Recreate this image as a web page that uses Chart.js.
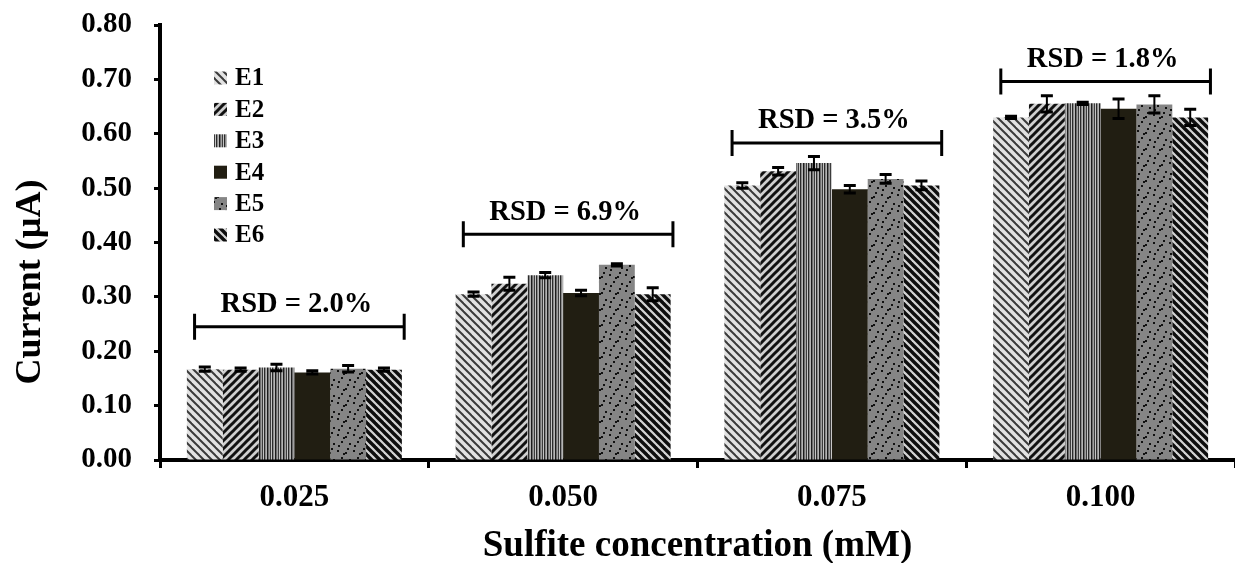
<!DOCTYPE html>
<html>
<head>
<meta charset="utf-8">
<script src="https://cdn.jsdelivr.net/npm/chart.js@4.4.1/dist/chart.umd.min.js"></script>
<style>
    html, body { margin: 0; padding: 0; background: #fff; }
    #wrap { width: 1235px; height: 563px; }
</style>
</head>
<body>
<div id="wrap"><canvas id="myChart" width="1235" height="563"></canvas></div>
<script>
const categories = ['0.025', '0.050', '0.075', '0.100'];
const seriesNames = ['E1', 'E2', 'E3', 'E4', 'E5', 'E6'];

const e1 = [0.167, 0.305, 0.505, 0.630];
const e2 = [0.166, 0.324, 0.531, 0.655];
const e3 = [0.170, 0.340, 0.546, 0.656];
const e4 = [0.161, 0.307, 0.498, 0.646];
const e5 = [0.168, 0.359, 0.517, 0.654];
const e6 = [0.166, 0.305, 0.505, 0.630];

const e1Err = [0.004, 0.004, 0.005, 0.002];
const e2Err = [0.003, 0.012, 0.007, 0.015];
const e3Err = [0.006, 0.005, 0.012, 0.002];
const e4Err = [0.003, 0.005, 0.007, 0.018];
const e5Err = [0.006, 0.002, 0.008, 0.016];
const e6Err = [0.003, 0.012, 0.008, 0.015];

const rsdLabels = ['RSD = 2.0%', 'RSD = 6.9%', 'RSD = 3.5%', 'RSD = 1.8%'];
const rsdLevels = [0.245, 0.415, 0.583, 0.696];

const yTitle = 'Current (\u00b5A)';
const xTitle = 'Sulfite concentration (mM)';

const FONT = '"Liberation Serif", "Times New Roman", serif';

// motifs des barres (hachures comme dans Excel)
function makePattern(kind) {
    const s = kind === 'dots' ? 16 : 8;
    const c = document.createElement('canvas');
    c.width = s;
    c.height = s;
    const g = c.getContext('2d');
    if (kind === 'back1') {
        g.fillStyle = '#e2e2e2';
        g.fillRect(0, 0, s, s);
        g.strokeStyle = '#3a3a3a';
        g.lineWidth = 2;
        for (let k = -1; k <= 1; k++) {
            g.beginPath();
            g.moveTo(k * s - s, -s);
            g.lineTo(k * s + 2 * s, 2 * s);
            g.stroke();
        }
    } else if (kind === 'fwd') {
        g.fillStyle = '#cfcfcf';
        g.fillRect(0, 0, s, s);
        g.strokeStyle = '#111';
        g.lineWidth = 3;
        for (let k = 0; k <= 2; k++) {
            g.beginPath();
            g.moveTo(k * s + s, -s);
            g.lineTo(k * s - 2 * s, 2 * s);
            g.stroke();
        }
    } else if (kind === 'vert') {
        const cols = ['#2a2a2a', '#8a8a8a', '#b5b5b5', '#1c1c1c', '#6e6e6e', '#a0a0a0', '#3c3c3c', '#c4c4c4'];
        cols.forEach((col, i) => {
            g.fillStyle = col;
            g.fillRect(i, 0, 1, s);
        });
    } else if (kind === 'dots') {
        g.fillStyle = '#858585';
        g.fillRect(0, 0, s, s);
        g.fillStyle = '#111';
        [[1, 2], [9, 4], [5, 9], [13, 11], [2, 13], [11, 0], [7, 5]].forEach(p => {
            g.fillRect(p[0], p[1], 2, 2);
        });
    } else if (kind === 'back2') {
        g.fillStyle = '#d4d4d4';
        g.fillRect(0, 0, s, s);
        g.strokeStyle = '#0d0d0d';
        g.lineWidth = 3.4;
        for (let k = -1; k <= 1; k++) {
            g.beginPath();
            g.moveTo(k * s - s, -s);
            g.lineTo(k * s + 2 * s, 2 * s);
            g.stroke();
        }
    }
    return g.createPattern(c, 'repeat');
}

const fills = [
    makePattern('back1'),
    makePattern('fwd'),
    makePattern('vert'),
    '#211e12',
    makePattern('dots'),
    makePattern('back2')
];

const errorBarPlugin = {
    id: 'errorBars',
    afterDatasetsDraw(chart) {
        const ctx = chart.ctx;
        const yScale = chart.scales.y;
        ctx.save();
        ctx.strokeStyle = '#000';
        chart.data.datasets.forEach((ds, i) => {
            const meta = chart.getDatasetMeta(i);
            meta.data.forEach((bar, j) => {
                const top = yScale.getPixelForValue(ds.data[j] + ds.errors[j]);
                const bot = yScale.getPixelForValue(ds.data[j] - ds.errors[j]);
                ctx.lineWidth = 2;
                ctx.beginPath();
                ctx.moveTo(bar.x, top);
                ctx.lineTo(bar.x, bot);
                ctx.stroke();
                ctx.lineWidth = 3;
                ctx.beginPath();
                ctx.moveTo(bar.x - 6, top);
                ctx.lineTo(bar.x + 6, top);
                ctx.moveTo(bar.x - 6, bot);
                ctx.lineTo(bar.x + 6, bot);
                ctx.stroke();
            });
        });
        ctx.restore();
    }
};

const rsdPlugin = {
    id: 'rsd',
    afterDatasetsDraw(chart) {
        const {ctx, scales: {x, y}} = chart;
        const half = x.width / categories.length * 0.39;
        ctx.save();
        ctx.strokeStyle = '#000';
        ctx.fillStyle = '#000';
        ctx.lineWidth = 3;
        categories.forEach((c, i) => {
            const cx = x.getPixelForValue(i) + 5;
            const cy = y.getPixelForValue(rsdLevels[i]);
            ctx.beginPath();
            ctx.moveTo(cx - half, cy);
            ctx.lineTo(cx + half, cy);
            ctx.moveTo(cx - half, cy - 13);
            ctx.lineTo(cx - half, cy + 13);
            ctx.moveTo(cx + half, cy - 13);
            ctx.lineTo(cx + half, cy + 13);
            ctx.stroke();
            ctx.font = 'bold 28.5px ' + FONT;
            ctx.textAlign = 'center';
            ctx.textBaseline = 'middle';
            ctx.fillText(rsdLabels[i], x.getPixelForValue(i) + 2, cy - 22);
        });
        ctx.restore();
    }
};

// légende verticale dans la zone du graphique + titre de l'axe Y
const legendPlugin = {
    id: 'sideLegend',
    afterDraw(chart) {
        const ctx = chart.ctx;
        ctx.save();
        ctx.font = 'bold 25px ' + FONT;
        ctx.textBaseline = 'middle';
        ctx.textAlign = 'left';
        chart.data.datasets.forEach((ds, i) => {
            const cy = 78 + i * 31.4;
            ctx.fillStyle = ds.backgroundColor;
            ctx.fillRect(214, cy - 6.5, 13, 13);
            ctx.fillStyle = '#000';
            ctx.fillText(ds.label, 235, cy + 1);
        });

        ctx.translate(31, 282);
        ctx.rotate(-Math.PI / 2);
        ctx.font = 'bold 36px ' + FONT;
        ctx.textAlign = 'center';
        ctx.fillText(yTitle, 0, 0);
        ctx.restore();
    }
};

const allValues = [e1, e2, e3, e4, e5, e6];
const allErrors = [e1Err, e2Err, e3Err, e4Err, e5Err, e6Err];

const ctx = document.getElementById('myChart').getContext('2d');
const chart = new Chart(ctx, {
    type: 'bar',
    data: {
        labels: categories,
        datasets: seriesNames.map((name, i) => ({
            label: name,
            data: allValues[i],
            errors: allErrors[i],
            backgroundColor: fills[i],
            borderWidth: 0,
            categoryPercentage: 0.8,
            barPercentage: 1.0
        }))
    },
    options: {
        responsive: false,
        animation: false,
        devicePixelRatio: 1,
        layout: { padding: { top: 25, right: 0, bottom: 0, left: 0 } },
        plugins: {
            legend: { display: false },
            tooltip: { enabled: false }
        },
        scales: {
            x: {
                ticks: {
                    color: '#000',
                    padding: 11,
                    font: { family: FONT, size: 31, weight: 'bold' }
                },
                border: { display: true, color: '#000', width: 4 },
                grid: {
                    drawOnChartArea: false,
                    drawTicks: true,
                    tickLength: 8,
                    tickWidth: 3,
                    tickColor: '#000',
                    offset: true
                },
                title: {
                    display: true,
                    text: xTitle,
                    color: '#000',
                    padding: { top: 0, bottom: 0 },
                    font: { family: FONT, size: 37, weight: 'bold', lineHeight: 0.9 }
                },
                afterFit(scale) { scale.height = 103; }
            },
            y: {
                min: 0,
                max: 0.8,
                ticks: {
                    stepSize: 0.1,
                    color: '#000',
                    padding: 22,
                    font: { family: FONT, size: 29, weight: 'bold' },
                    callback: v => v.toFixed(2)
                },
                border: { display: true, color: '#000', width: 4 },
                grid: {
                    drawOnChartArea: false,
                    drawTicks: true,
                    tickLength: 6,
                    tickWidth: 3,
                    tickColor: '#000'
                },
                afterFit(scale) {
                    scale.width = 160;
                    scale.paddingTop = 0;
                    scale.paddingBottom = 0;
                }
            }
        }
    },
    plugins: [errorBarPlugin, rsdPlugin, legendPlugin]
});
</script>
</body>
</html>
